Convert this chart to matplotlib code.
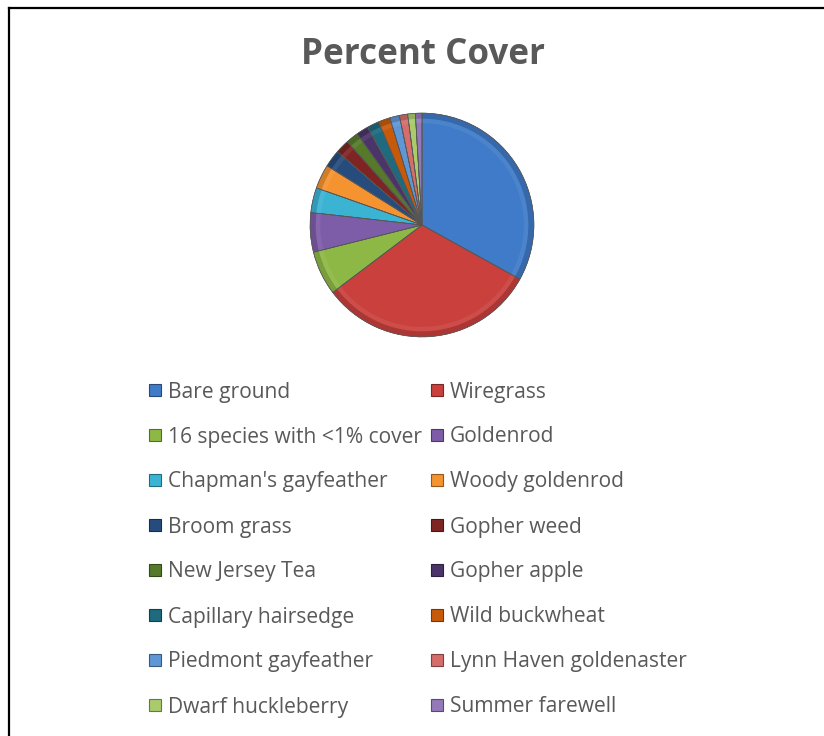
import matplotlib
matplotlib.use("Agg")
import matplotlib.pyplot as plt
from matplotlib.patches import Rectangle, Wedge
from matplotlib.lines import Line2D
import matplotlib.colors as mcolors

labels = ["Bare ground", "Wiregrass", "16 species with <1% cover", "Goldenrod",
          "Chapman's gayfeather", "Woody goldenrod", "Broom grass", "Gopher weed",
          "New Jersey Tea", "Gopher apple", "Capillary hairsedge", "Wild buckwheat",
          "Piedmont gayfeather", "Lynn Haven goldenaster", "Dwarf huckleberry",
          "Summer farewell"]
values = [33.1, 31.7, 6.4, 5.7, 3.6, 3.5, 2.5, 2.0, 1.8, 1.75, 1.75, 1.7,
          1.4, 1.2, 1.1, 0.95]
colors = ["#3F7BC8", "#C9403D", "#8DB845", "#7E5DA8", "#3BB4D4", "#F59331",
          "#264C7E", "#7E2523", "#567A2A", "#4B3468", "#1E6A7E", "#C75A0A",
          "#5E96D6", "#D56D6B", "#A9CB6B", "#9479B8"]

def shade(c, f):
    r, g, b = mcolors.to_rgb(c)
    if f < 1:
        return (r * f, g * f, b * f)
    return (r + (1 - r) * (f - 1), g + (1 - g) * (f - 1), b + (1 - b) * (f - 1))

W, H = 824, 736
plt.rcParams['font.family'] = ['Open Sans', 'DejaVu Sans']
fig = plt.figure(figsize=(W/100, H/100), dpi=100)

# border lines (top and left)
fig.add_artist(Line2D([9/W, 9/W], [0, 1 - 7.5/H], transform=fig.transFigure, color='black', lw=1.6))
fig.add_artist(Line2D([9/W, 1], [1 - 7.5/H, 1 - 7.5/H], transform=fig.transFigure, color='black', lw=1.6))

fig.text(423/W, 1 - 55/H, "Percent Cover", ha='center', va='center',
         fontsize=25.2, fontweight='bold', color='#595959')

cx, cy, r = 422, 225, 113
ax = fig.add_axes([(cx - r)/W, 1 - (cy + r)/H, 2*r/W, 2*r/H])
wedges, _ = ax.pie(values, colors=colors, startangle=90, counterclock=False,
                   wedgeprops=dict(edgecolor='#666666', linewidth=0.4))
# bevel-like shading rims
for w, c in zip(wedges, colors):
    t1, t2 = w.theta1, w.theta2
    ax.add_patch(Wedge((0, 0), 1.0, t1, t2, width=0.05, facecolor=shade(c, 0.8),
                       edgecolor='none', alpha=0.7))
    ax.add_patch(Wedge((0, 0), 0.95, t1, t2, width=0.04, facecolor=shade(c, 1.15),
                       edgecolor='none', alpha=0.45))
    ax.add_patch(Wedge((0, 0), 1.0, t1, t2, facecolor='none',
                       edgecolor='#555555', linewidth=0.5))
ax.set_xlim(-1.01, 1.01)
ax.set_ylim(-1.01, 1.01)
ax.set_aspect('equal')
ax.axis('off')

# legend drawn row by row (two columns)
col_x = [149, 431]
for i, (lab, c) in enumerate(zip(labels, colors)):
    row, col = divmod(i, 2)
    y = 390 + 45 * row
    x = col_x[col]
    fig.add_artist(Rectangle((x/W, 1 - (y + 6)/H), 12/W, 12/H, transform=fig.transFigure,
                             facecolor=c, edgecolor=shade(c, 0.6), linewidth=0.8))
    fig.text((x + 19)/W, 1 - (y + 7.5)/H, lab, ha='left', va='baseline',
             fontsize=15.1, color='#595959')

fig.savefig("out.png", dpi=100, facecolor='white')
